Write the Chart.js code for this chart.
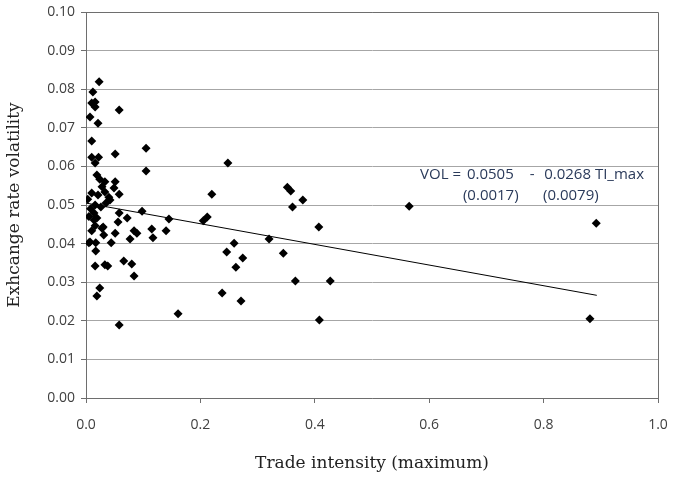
<!DOCTYPE html>
<html>
<head>
<meta charset="utf-8">
<script src="https://cdn.jsdelivr.net/npm/chart.js@4.4.1/dist/chart.umd.min.js"></script>
<style>
    html, body { margin: 0; padding: 0; background: #fff; }
</style>
</head>
<body>
<canvas id="scatter-chart" width="673" height="478"></canvas>
<script>
    "use strict";

    // Data
    var tradeIntensity = [
        0.023, 0.012, 0.010, 0.016, 0.016, 0.058, 0.007, 0.021, 0.010, 0.010,
        0.022, 0.016, 0.051, 0.105, 0.105, 0.019, 0.024, 0.033, 0.051, 0.028,
        0.049, 0.058, 0.010, 0.021, 0.033, 0.042, 0.016, 0.026, 0.058, 0.072,
        0.056, 0.014, 0.019, 0.014, 0.016, 0.010, 0.028, 0.031, 0.051, 0.005,
        0.017, 0.017, 0.044, 0.066, 0.080, 0.016, 0.033, 0.038, 0.024, 0.019,
        0.058, 0.084, 0.077, 0.084, 0.089, 0.098, 0.115, 0.117, 0.140, 0.145,
        0.030, 0.007, 0.040, 0.008, 0.005, 0.035, 0.003,
        0.205, 0.212, 0.220, 0.248, 0.161, 0.259, 0.246, 0.274, 0.262, 0.238,
        0.271, 0.320, 0.352, 0.358, 0.379, 0.361, 0.565, 0.407, 0.345, 0.366,
        0.427, 0.408, 0.892, 0.881
    ];
    var volatility = [
        0.0819, 0.0793, 0.0764, 0.0767, 0.0754, 0.0746, 0.0728, 0.0712, 0.0666, 0.0624,
        0.0624, 0.0609, 0.0632, 0.0647, 0.0588, 0.0578, 0.0567, 0.0560, 0.0560, 0.0547,
        0.0544, 0.0528, 0.0531, 0.0526, 0.0534, 0.0513, 0.0500, 0.0495, 0.0479, 0.0466,
        0.0456, 0.0479, 0.0466, 0.0461, 0.0446, 0.0433, 0.0440, 0.0422, 0.0427, 0.0402,
        0.0402, 0.0381, 0.0402, 0.0355, 0.0347, 0.0342, 0.0345, 0.0342, 0.0285, 0.0264,
        0.0189, 0.0316, 0.0412, 0.0433, 0.0427, 0.0484, 0.0438, 0.0415, 0.0433, 0.0464,
        0.0443, 0.0404, 0.0520, 0.0490, 0.0470, 0.0505, 0.0515,
        0.0459, 0.0469, 0.0528, 0.0609, 0.0218, 0.0401, 0.0378, 0.0363, 0.0339, 0.0272,
        0.0251, 0.0412, 0.0546, 0.0536, 0.0513, 0.0495, 0.0497, 0.0443, 0.0375, 0.0303,
        0.0303, 0.0202, 0.0453, 0.0205
    ];
    var fitX = [0, 0.893];
    var fitY = [0.0505, 0.0266];

    var xTickStep = 0.2;
    var yTickStep = 0.01;

    // Regression text, anchored in data units
    var eqText = ['VOL =', '0.0505', '-', '0.0268 TI_max', '(0.0017)', '(0.0079)'];
    var eqAtX = [0.584, 0.666, 0.776, 0.801, 0.659, 0.799];
    var eqAtY = [0.0578, 0.0578, 0.0578, 0.0578, 0.0523, 0.0523];

    var points = tradeIntensity.map(function (x, i) {
        return {x: x, y: volatility[i]};
    });
    var fitLine = fitX.map(function (x, i) {
        return {x: x, y: fitY[i]};
    });

    // Equation + plot border
    var extras = {
        id: 'extras',
        afterDatasetsDraw: function (chart) {
            var ctx = chart.ctx;
            var xs = chart.scales.x, ys = chart.scales.y;
            var a = chart.chartArea;
            ctx.save();
            ctx.strokeStyle = '#6e6e6e';
            ctx.lineWidth = 1;
            ctx.beginPath();
            ctx.moveTo(a.left, a.top + 0.5);
            ctx.lineTo(a.right + 0.5, a.top + 0.5);
            ctx.lineTo(a.right + 0.5, a.bottom);
            ctx.stroke();

            ctx.fillStyle = '#2a3a5a';
            ctx.font = '15px "Open Sans"';
            ctx.textBaseline = 'middle';
            ctx.textAlign = 'left';
            eqText.forEach(function (t, i) {
                ctx.fillText(t, xs.getPixelForValue(eqAtX[i]), ys.getPixelForValue(eqAtY[i]));
            });
            ctx.restore();
        }
    };

    // Scatter Chart
    var ctx = document.getElementById('scatter-chart').getContext('2d');
    var myChart = new Chart(ctx, {
        type: 'scatter',
        data: {
            datasets: [{
                data: points,
                backgroundColor: '#000',
                borderColor: '#000',
                pointStyle: 'rectRot',
                pointRadius: 4.5,
                pointBorderWidth: 0
            },
            {
                type: 'line',
                data: fitLine,
                borderColor: '#000',
                borderWidth: 1,
                pointRadius: 0,
                fill: false
            }]
        },
        options: {
            responsive: false,
            animation: false,
            layout: {padding: {top: 12, right: 15, left: 0, bottom: 0}},
            plugins: {
                legend: {display: false},
                tooltip: {enabled: false}
            },
            scales: {
                x: {
                    type: 'linear',
                    min: 0,
                    max: 1,
                    afterFit: function (scale) {
                        scale.height = 80;
                        scale.paddingLeft = 0;
                        scale.paddingRight = 0;
                    },
                    grid: {drawOnChartArea: false, drawTicks: true, tickLength: 5, color: '#6e6e6e'},
                    border: {color: '#6e6e6e'},
                    ticks: {
                        stepSize: xTickStep,
                        padding: 14,
                        color: '#404040',
                        font: {family: 'Open Sans', size: 14},
                        callback: function (v) { return v.toFixed(1); }
                    },
                    title: {
                        display: true,
                        text: 'Trade intensity (maximum)',
                        color: '#222',
                        font: {family: 'DejaVu Serif', size: 17},
                        padding: {top: 0, bottom: 4}
                    }
                },
                y: {
                    min: 0,
                    max: 0.1,
                    afterFit: function (scale) {
                        scale.width = 86;
                        scale.paddingTop = 0;
                        scale.paddingBottom = 0;
                    },
                    grid: {color: '#a6a6a6', tickLength: 5, tickColor: '#6e6e6e'},
                    border: {color: '#6e6e6e'},
                    ticks: {
                        stepSize: yTickStep,
                        padding: 6,
                        color: '#404040',
                        font: {family: 'Open Sans', size: 14},
                        callback: function (v) { return v.toFixed(2); }
                    },
                    title: {
                        display: true,
                        text: 'Exhcange rate volatility',
                        color: '#222',
                        font: {family: 'DejaVu Serif', size: 17},
                        padding: {top: 4, bottom: 0}
                    }
                }
            }
        },
        plugins: [extras]
    });
</script>
</body>
</html>
